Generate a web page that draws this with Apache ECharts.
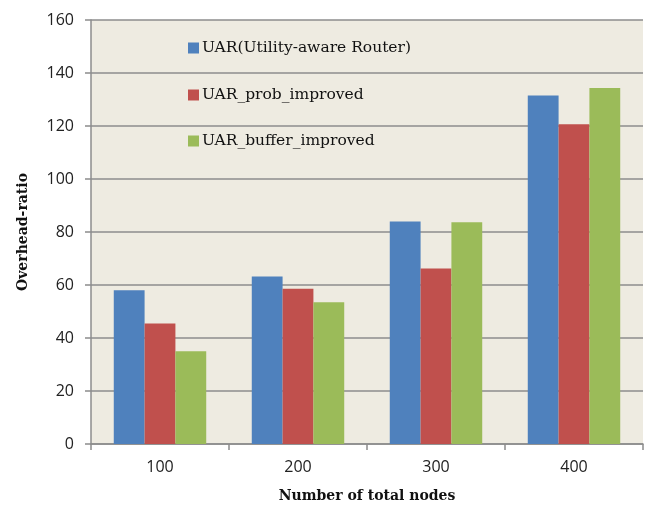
<!DOCTYPE html>
<html><head><meta charset="utf-8">
<script src="https://cdn.jsdelivr.net/npm/echarts@6/dist/echarts.min.js"></script>
<style>html,body{margin:0;padding:0;background:#fff}#c{width:651px;height:505px}</style>
</head><body><div id="c"></div>
<script>
var categories = ['100', '200', '300', '400'];
var seriesNames = ['UAR(Utility-aware Router)', 'UAR_prob_improved', 'UAR_buffer_improved'];
var uar = [58, 63.2, 84, 131.5];
var uarProb = [45.5, 58.6, 66.2, 120.7];
var uarBuffer = [35, 53.5, 83.7, 134.3];
var yTicks = { min: 0, max: 160, interval: 20 };
var colors = ['#4F81BD', '#C0504D', '#9BBB59'];
var values = [uar, uarProb, uarBuffer];

var chart = echarts.init(document.getElementById('c'), null, { renderer: 'canvas' });
var legendTops = [35, 82, 128];
var legends = seriesNames.map(function (n, i) {
  return {
    data: [n], left: 183, top: legendTops[i], itemWidth: 11, itemHeight: 11,
    icon: 'rect', itemGap: 4,
    textStyle: { fontFamily: 'DejaVu Serif', fontSize: 15.5, color: '#111', padding: [0, 0, 0, -2] }
  };
});
chart.setOption({
  animation: false,
  backgroundColor: '#fff',
  legend: legends,
  grid: { left: 91, right: 8, top: 20, bottom: 61, backgroundColor: '#EEEBE1', show: true, borderWidth: 0,
          containLabel: false, outerBoundsMode: 'none' },
  xAxis: {
    type: 'category', data: categories,
    name: 'Number of total nodes', nameLocation: 'middle', nameGap: 45,
    nameTextStyle: { fontFamily: 'DejaVu Serif', fontWeight: 'bold', fontSize: 14, color: '#111' },
    axisLine: { lineStyle: { color: '#8C8C8C', width: 1.5 } },
    axisTick: { show: true, length: 6, lineStyle: { color: '#8C8C8C', width: 1.5 }, alignWithLabel: false },
    axisLabel: { fontFamily: 'Open Sans', fontSize: 16, color: '#222', margin: 15 }
  },
  yAxis: {
    type: 'value', min: yTicks.min, max: yTicks.max, interval: yTicks.interval,
    name: 'Overhead-ratio', nameLocation: 'middle', nameGap: 61,
    nameTextStyle: { fontFamily: 'DejaVu Serif', fontWeight: 'bold', fontSize: 14, color: '#111' },
    axisLine: { show: true, lineStyle: { color: '#8C8C8C', width: 1.5 } },
    axisTick: { show: true, length: 6, lineStyle: { color: '#8C8C8C', width: 1.5 } },
    axisLabel: { fontFamily: 'Open Sans', fontSize: 16, color: '#222', margin: 17 },
    splitLine: { lineStyle: { color: '#8C8C8C', width: 1.5 } }
  },
  series: seriesNames.map(function (n, i) {
    return {
      name: n, type: 'bar', data: values[i], barGap: '0%', barCategoryGap: '33%',
      itemStyle: { color: colors[i] }
    };
  })
});
</script></body></html>
